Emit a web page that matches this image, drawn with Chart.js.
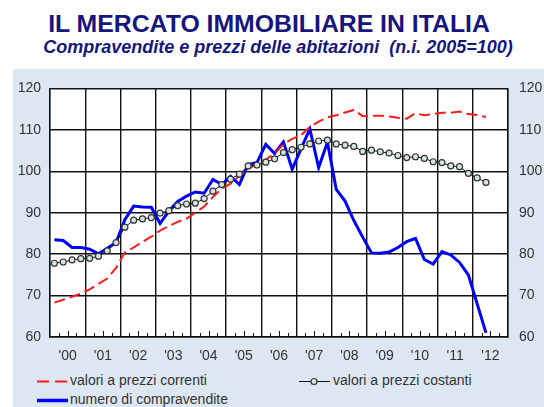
<!DOCTYPE html>
<html>
<head>
<meta charset="utf-8">
<script src="https://cdn.jsdelivr.net/npm/chart.js@4.4.1/dist/chart.umd.min.js"></script>
<style>
  body { margin: 0; background: #fff; font-family: "Liberation Sans", Arial, sans-serif; }
  .title { position: absolute; left: 0; width: 538px; text-align: center; color: #161680; font-weight: bold; white-space: nowrap; }
  #mainTitle { top: 11px; font-size: 24.8px; line-height: 25px; }
  #subTitle { top: 38px; left: 9px; font-size: 18px; line-height: 18px; font-style: italic; }
  #panel { position: absolute; left: 13px; top: 69px; width: 531px; height: 338px; background: #dce7f1; }
  #chartCanvas { position: absolute; left: 0; top: 0; }
  .legendItem { position: absolute; font-size: 14px; line-height: 16px; color: #333; white-space: nowrap; }
  .legendItem svg { position: absolute; left: -34px; top: 0; }
</style>
</head>
<body>
<div class="title" id="mainTitle">IL MERCATO IMMOBILIARE IN ITALIA</div>
<div class="title" id="subTitle">Compravendite e prezzi delle abitazioni&nbsp; (n.i. 2005=100)</div>
<div id="panel">
  <canvas id="chartCanvas" width="531" height="300"></canvas>
</div>
<div class="legendItem" id="legendCorrenti" style="left:70px; top:372px;">
  <svg width="32" height="16"><line x1="1" y1="9.5" x2="32" y2="9.5" stroke="#ff1a1a" stroke-width="2" stroke-dasharray="12 6"/></svg>
  <span></span>
</div>
<div class="legendItem" id="legendCostanti" style="left:333px; top:372px;">
  <svg width="32" height="16"><line x1="0" y1="9.5" x2="31" y2="9.5" stroke="#111" stroke-width="1"/><circle cx="15" cy="9.5" r="3" fill="#d5e6df" stroke="#333" stroke-width="1.2"/></svg>
  <span></span>
</div>
<div class="legendItem" id="legendCompravendite" style="left:70px; top:391px;">
  <svg width="32" height="16"><line x1="1" y1="9.5" x2="32" y2="9.5" stroke="#0000ff" stroke-width="3.5"/></svg>
  <span></span>
</div>
<script>
// years on the x axis ('00 ... '12), quarterly series 2000Q1 - 2012Q2
const years = ["00", "01", "02", "03", "04", "05", "06", "07", "08", "09", "10", "11", "12"];
const seriesNames = ["valori a prezzi correnti", "valori a prezzi costanti", "numero di compravendite"];
const yTicks = [60, 70, 80, 90, 100, 110, 120];

const prezziCorrenti = [
  68.3, 69.0, 69.7, 70.5, 71.5, 72.8, 74.1, 76.7, 80.4, 81.6, 83.0, 84.2,
  85.7, 86.8, 87.8, 88.6, 90.0, 91.5, 93.8, 95.8, 97.0, 98.9, 100.6, 101.8,
  102.8, 104.3, 106.5, 107.8, 108.7, 110.7, 112.0, 113.0, 113.5, 114.2, 114.8, 113.3,
  113.4, 113.4, 113.2, 112.9, 112.7, 114.0, 113.5, 113.8, 114.1, 114.1, 114.4, 113.8,
  113.6, 113.1
];
const prezziCostanti = [
  77.8, 78.1, 78.6, 78.9, 79.0, 79.5, 80.8, 82.8, 86.5, 88.2, 88.5, 88.8,
  89.9, 90.5, 91.7, 92.1, 92.3, 93.4, 95.2, 96.8, 98.1, 99.3, 101.3, 101.5,
  102.2, 103.0, 104.5, 105.2, 105.8, 106.6, 107.3, 107.5, 106.6, 106.3, 106.0, 104.8,
  105.1, 104.7, 104.4, 103.8, 103.3, 103.5, 103.1, 102.3, 102.1, 101.3, 101.1, 99.5,
  98.4, 97.3
];
const compravendite = [
  83.5, 83.3, 81.6, 81.6, 81.2, 80.1, 81.4, 82.8, 88.3, 91.6, 91.4, 91.3,
  87.4, 90.4, 92.7, 94.0, 95.0, 94.7, 98.0, 96.8, 98.8, 96.8, 101.6, 102.1,
  106.5, 104.3, 107.1, 100.5, 105.4, 110.2, 100.9, 107.0, 95.6, 92.8, 88.1, 84.1,
  80.3, 80.2, 80.5, 81.6, 83.0, 83.8, 78.7, 77.6, 80.6, 79.8, 78.0, 75.0,
  68.0, 61.0
];

const gridColor = "#111";
const labelFont = { family: "'Liberation Sans', Arial, sans-serif", size: 14 };

// quarter i sits in the middle of its quarter on a 0..52 scale
const toPoints = (values) => values.map((v, i) => ({ x: i + 0.5, y: v }));

document.querySelector("#legendCorrenti span").textContent = seriesNames[0];
document.querySelector("#legendCostanti span").textContent = seriesNames[1];
document.querySelector("#legendCompravendite span").textContent = seriesNames[2];

const plotBackground = {
  id: "plotBackground",
  beforeDraw(chart) {
    const { ctx, chartArea } = chart;
    ctx.save();
    ctx.fillStyle = "#fff";
    ctx.fillRect(chartArea.left, chartArea.top, chartArea.right - chartArea.left, chartArea.bottom - chartArea.top);
    ctx.restore();
  }
};

// small quarter ticks standing on the bottom axis
const quarterTicks = {
  id: "quarterTicks",
  beforeDatasetsDraw(chart) {
    const { ctx, chartArea, scales } = chart;
    ctx.save();
    ctx.strokeStyle = gridColor;
    ctx.lineWidth = 1;
    for (let q = 1; q < years.length * 4; q++) {
      if (q % 4 === 0) continue;
      const x = Math.round(scales.x.getPixelForValue(q)) + 0.5;
      const len = q % 4 === 2 ? 6 : 4;
      ctx.beginPath();
      ctx.moveTo(x, chartArea.bottom);
      ctx.lineTo(x, chartArea.bottom - len);
      ctx.stroke();
    }
    ctx.restore();
  }
};

new Chart(document.getElementById("chartCanvas"), {
  type: "line",
  data: {
    datasets: [
      {
        label: seriesNames[1],
        data: toPoints(prezziCostanti),
        borderColor: "#111",
        borderWidth: 1,
        pointRadius: 3,
        pointBackgroundColor: "#d5e6df",
        pointBorderColor: "#333",
        pointBorderWidth: 1.2,
        order: 0
      },
      {
        label: seriesNames[0],
        data: toPoints(prezziCorrenti),
        borderColor: "#ff1a1a",
        borderWidth: 2,
        borderDash: [11, 5],
        pointRadius: 0,
        order: 1
      },
      {
        label: seriesNames[2],
        data: toPoints(compravendite),
        borderColor: "#0000ff",
        borderWidth: 3,
        pointRadius: 0,
        order: 2
      }
    ]
  },
  options: {
    responsive: false,
    animation: false,
    layout: { padding: { top: 12, left: 0, right: 0, bottom: 0 } },
    plugins: { legend: { display: false }, tooltip: { enabled: false } },
    scales: {
      x: {
        type: "linear",
        min: 0,
        max: years.length * 4,
        afterFit: (scale) => { scale.height = 32; },
        afterBuildTicks: (scale) => {
          scale.ticks = [];
          for (let v = 0; v <= years.length * 4; v += 2) scale.ticks.push({ value: v });
        },
        ticks: {
          autoSkip: false,
          maxRotation: 0,
          padding: 11,
          color: "#333",
          font: labelFont,
          callback: (value) => (value % 4 === 2 ? "'" + years[(value - 2) / 4] : "")
        },
        grid: {
          drawTicks: false,
          lineWidth: 1.4,
          color: (ctx) => (ctx.tick && ctx.tick.value % 4 === 0 ? gridColor : "rgba(0,0,0,0)")
        },
        border: { display: true, color: gridColor, width: 1.4 }
      },
      y: {
        position: "left",
        min: 60,
        max: 120,
        afterFit: (scale) => { scale.width = 37; },
        afterBuildTicks: (scale) => { scale.ticks = yTicks.map((v) => ({ value: v })); },
        ticks: { padding: 9, color: "#333", font: labelFont },
        grid: { drawTicks: false, color: gridColor, lineWidth: 1.4 },
        border: { display: true, color: gridColor, width: 1.4 }
      },
      y2: {
        position: "right",
        min: 60,
        max: 120,
        afterFit: (scale) => { scale.width = 36; },
        afterBuildTicks: (scale) => { scale.ticks = yTicks.map((v) => ({ value: v })); },
        ticks: { padding: 11, color: "#333", font: labelFont },
        grid: { display: false, drawTicks: false },
        border: { display: true, color: gridColor, width: 1.4 }
      }
    }
  },
  plugins: [plotBackground, quarterTicks]
});
</script>
</body>
</html>
